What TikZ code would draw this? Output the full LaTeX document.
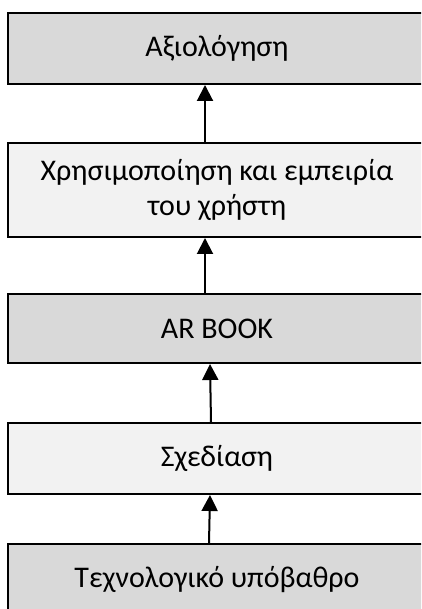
\documentclass[tikz,border=0pt]{standalone}
\usepackage{fontspec}
\setmainfont{Carlito}
\usetikzlibrary{arrows.meta}
\definecolor{darkfill}{HTML}{D9D9D9}
\definecolor{lightfill}{HTML}{F2F2F2}
\begin{document}
\begin{tikzpicture}[x=1pt,y=1pt,
  box/.style={draw=black, line width=2pt, minimum width=418pt, inner sep=0pt,
    align=center, font=\fontsize{30}{35}\selectfont},
  dark/.style={box, fill=darkfill},
  light/.style={box, fill=lightfill},
  conn/.style={line width=2pt, -{Triangle[width=16pt,length=16pt]}}]
\useasboundingbox (0,0) rectangle (421,609);
\clip (0,0) rectangle (421,609);
\node[dark, minimum height=71pt] (b1) at (217,{609-48.5}) {Αξιολόγηση};
\node[light, minimum height=94pt] (b2) at (217,{609-190}) {Χρησιμοποίηση και εμπειρία\\του χρήστη};
\node[dark, minimum height=69pt] (b3) at (217,{609-328.5}) {AR BOOK};
\node[light, minimum height=71pt] (b4) at (217,{609-458.5}) {Σχεδίαση};
\node[dark, minimum height=71pt] (b5) at (217,{609-579.5}) {Τεχνολογικό υπόβαθρο};
\draw[conn] ([xshift=-12pt]b2.north) -- ([xshift=-12pt]b1.south);
\draw[conn] ([xshift=-12pt]b3.north) -- ([xshift=-12pt]b2.south);
\draw[conn] ([xshift=-6pt]b4.north) -- ([xshift=-7pt]b3.south);
\draw[conn] ([xshift=-8pt]b5.north) -- ([xshift=-7pt]b4.south);
\end{tikzpicture}
\end{document}
